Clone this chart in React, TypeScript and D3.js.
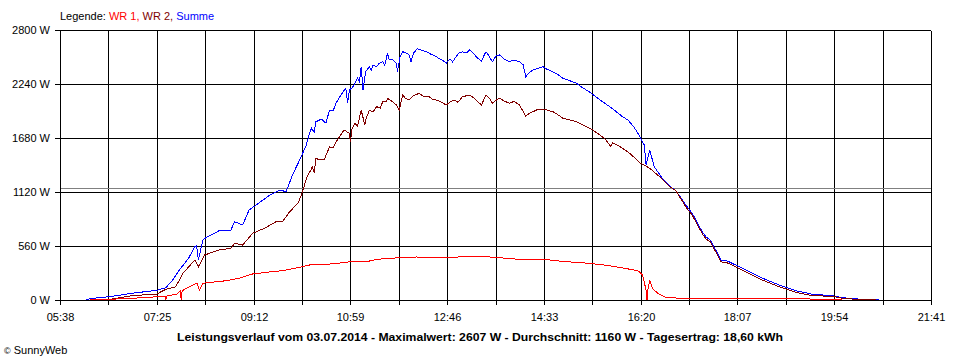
import React from 'react'
import * as d3 from 'd3'

// time in minutes since midnight, power in W
const wr1: [number, number][] = [
  [371, 0], [393, 7], [418, 18], [437, 28], [454, 41], [455, 0], [456, 41], [467, 60], [471, 96], [472, 0], [473, 96],
  [487, 166], [490, 166], [492, 104], [496, 170], [500, 179], [522, 200], [536, 225], [551, 270], [566, 287], [584, 304],
  [603, 339], [614, 363], [636, 373], [651, 387], [665, 404], [676, 395], [688, 422], [700, 430], [713, 439], [732, 446],
  [750, 443], [769, 443], [787, 449], [809, 449], [827, 436], [853, 415], [879, 415], [898, 397], [923, 381], [945, 356],
  [962, 329], [977, 304], [982, 260], [986, 104], [987, 0], [988, 104], [990, 207], [993, 121], [999, 69], [1008, 28],
  [1020, 20], [1159, 20], [1170, 7], [1199, 7], [1203, 0],
]

const wr2: [number, number][] = [
  [371, 0], [393, 7], [418, 45], [445, 62], [455, 111], [466, 138], [474, 277], [487, 415], [491, 345], [498, 467],
  [514, 519], [527, 536], [531, 588], [540, 570], [551, 692], [564, 744], [577, 812], [584, 812], [592, 916], [601, 1003],
  [605, 1089], [610, 1244], [612, 1296], [615, 1340], [617, 1382], [619, 1320], [621, 1469], [625, 1452], [630, 1452],
  [633, 1520], [636, 1590], [640, 1576], [644, 1650], [647, 1693], [652, 1763], [658, 1729], [659, 1642], [661, 1780],
  [664, 1832], [667, 1800], [671, 1970], [675, 1815], [676, 1867], [680, 1970], [684, 1950], [688, 2005], [692, 1990],
  [695, 2060], [699, 2056], [700, 2092], [705, 2060], [710, 2022], [713, 1970], [717, 2126], [720, 2090], [724, 2074],
  [729, 2120], [735, 2143], [740, 2110], [746, 2108], [750, 2080], [754, 2074], [760, 2050], [765, 2022], [770, 2060],
  [774, 2074], [778, 2050], [783, 2108], [791, 2126], [795, 2100], [798, 2074], [804, 2022], [809, 2126], [813, 2090],
  [816, 2040], [820, 2070], [824, 2092], [830, 2060], [835, 2040], [840, 2060], [846, 2022], [853, 1908], [857, 1935],
  [861, 1953], [866, 1975], [872, 1981], [878, 1965], [883, 1953], [888, 1925], [894, 1884], [909, 1849], [927, 1763],
  [940, 1677], [947, 1590], [949, 1631], [956, 1597], [968, 1521], [979, 1424], [990, 1366], [1001, 1279], [1012, 1175],
  [1019, 1133], [1030, 965], [1037, 880], [1043, 775], [1048, 690], [1052, 636], [1057, 602], [1063, 499], [1069, 395],
  [1076, 384], [1085, 343], [1100, 273], [1115, 205], [1133, 138], [1152, 78], [1170, 45], [1192, 38], [1203, 18],
  [1221, 5], [1240, 0],
]

const summe: [number, number][] = [
  [367, 0], [372, 15], [393, 35], [418, 70], [445, 101], [455, 128], [462, 200], [470, 311], [480, 430], [487, 553],
  [489, 560], [491, 415], [496, 622], [500, 650], [514, 719], [527, 726], [531, 812], [540, 778], [547, 933], [558, 1006],
  [570, 1089], [581, 1141], [588, 1123], [595, 1296], [603, 1452], [610, 1600], [613, 1700], [616, 1781], [619, 1740],
  [621, 1849], [625, 1867], [628, 1867], [632, 1835], [636, 1970], [640, 1960], [643, 2040], [647, 2100], [651, 2160],
  [654, 2195], [656, 2040], [658, 2178], [661, 2200], [664, 2247], [667, 2299], [669, 2260], [671, 2419], [673, 2178],
  [676, 2367], [680, 2419], [682, 2380], [684, 2437], [688, 2420], [691, 2455], [695, 2471], [697, 2430], [700, 2558],
  [702, 2489], [706, 2489], [710, 2455], [711, 2367], [714, 2520], [717, 2575], [721, 2560], [724, 2541], [726, 2471],
  [729, 2560], [733, 2607], [738, 2590], [743, 2575], [748, 2550], [754, 2523], [758, 2500], [762, 2480], [765, 2455],
  [769, 2500], [772, 2470], [776, 2523], [779, 2560], [783, 2575], [787, 2560], [791, 2593], [795, 2560], [798, 2523],
  [801, 2500], [804, 2471], [807, 2540], [809, 2575], [813, 2520], [816, 2471], [820, 2530], [824, 2541], [829, 2500],
  [835, 2471], [840, 2490], [846, 2471], [850, 2440], [853, 2316], [857, 2360], [861, 2385], [866, 2400], [872, 2419],
  [877, 2390], [883, 2367], [888, 2340], [894, 2299], [900, 2280], [909, 2247], [916, 2200], [923, 2160], [930, 2110],
  [938, 2056], [945, 2010], [953, 1953], [960, 1900], [966, 1867], [972, 1800], [977, 1729], [984, 1607], [986, 1400],
  [990, 1556], [995, 1382], [1004, 1262], [1013, 1175], [1019, 1133], [1030, 985], [1037, 899], [1043, 795], [1048, 708],
  [1052, 656], [1057, 622], [1063, 519], [1069, 415], [1076, 404], [1085, 363], [1100, 293], [1115, 225], [1133, 156],
  [1152, 96], [1170, 59], [1192, 45], [1203, 24], [1221, 10], [1243, 0],
]

const yTicks = [0, 560, 1120, 1680, 2240, 2800]
const xTickLabels = ['05:38', '07:25', '09:12', '10:59', '12:46', '14:33', '16:20', '18:07', '19:54', '21:41']
const average = 1160
const title =
  'Leistungsverlauf vom 03.07.2014 - Maximalwert: 2607 W - Durchschnitt: 1160 W - Tagesertrag: 18,60 kWh'

const W = 960
const H = 360
const font = '"Liberation Sans", Arial, sans-serif'

const toMin = (s: string) => {
  const [h, m] = s.split(':').map(Number)
  return h * 60 + m
}

export default function App() {
  const t0 = toMin(xTickLabels[0])
  const t1 = toMin(xTickLabels[xTickLabels.length - 1])
  const x = d3.scaleLinear().domain([t0, t1]).range([60, 931])
  const y = d3.scaleLinear().domain([0, 2800]).range([300, 30])
  const px = (v: number) => Math.round(v) + 0.5

  // gridlines every half label step
  const step = (t1 - t0) / ((xTickLabels.length - 1) * 2)
  const xGrid = d3.range(0, (xTickLabels.length - 1) * 2 + 1).map((i) => t0 + i * step)

  const line = d3
    .line<[number, number]>()
    .x((d) => x(d[0]))
    .y((d) => y(d[1]))

  const series = [
    { data: summe, color: '#0000ff' },
    { data: wr2, color: '#800000' },
    { data: wr1, color: '#ff0000' },
  ]

  return (
    <div style={{ position: 'absolute', left: 0, top: 0 }}>
      <svg width={W} height={H} style={{ display: 'block', background: '#fff' }} fontFamily={font}>
        <text x={60} y={20} fontSize={11}>
          <tspan fill="#000">Legende: </tspan>
          <tspan fill="#ff0000">WR 1, </tspan>
          <tspan fill="#800000">WR 2, </tspan>
          <tspan fill="#0000ff">Summe</tspan>
        </text>

        <g shapeRendering="crispEdges" stroke="#000" strokeWidth={1}>
          {yTicks.map((v) => (
            <line key={v} x1={55} x2={931} y1={px(y(v))} y2={px(y(v))} />
          ))}
          {xGrid.map((t, i) => (
            <line key={i} x1={px(x(t))} x2={px(x(t))} y1={px(y(2800))} y2={305} />
          ))}
        </g>
        <line
          x1={61}
          x2={931}
          y1={px(y(average))}
          y2={px(y(average))}
          stroke="#808080"
          shapeRendering="crispEdges"
        />

        <g fontSize={11} fill="#000">
          {yTicks.map((v) => (
            <text key={v} x={50} y={y(v) + 4} textAnchor="end">
              {v} W
            </text>
          ))}
          {xTickLabels.map((l) => (
            <text key={l} x={px(x(toMin(l)))} y={321} textAnchor="middle">
              {l}
            </text>
          ))}
        </g>

        {series.map((s) => (
          <path
            key={s.color}
            d={line(s.data) || ''}
            fill="none"
            stroke={s.color}
            strokeWidth={1}
            shapeRendering="crispEdges"
          />
        ))}

        <text
          x={177}
          y={341}
          fontSize={11}
          fontWeight="bold"
          textLength={606}
          lengthAdjust="spacingAndGlyphs"
        >
          {title}
        </text>
        <text x={4} y={354} fontSize={11}>
          <tspan fontSize={9}>©</tspan> SunnyWeb
        </text>
      </svg>
    </div>
  )
}
